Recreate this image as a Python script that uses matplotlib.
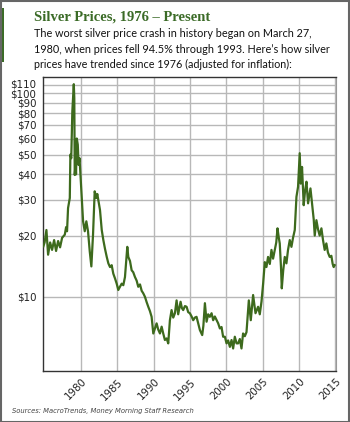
import matplotlib
matplotlib.use('Agg')
import matplotlib.pyplot as plt
from matplotlib.ticker import FixedLocator, NullLocator
from matplotlib.patches import Rectangle
import matplotlib.transforms as mtransforms

# ---------------- data ----------------
years = [1974.81, 1974.98, 1975.23, 1975.46, 1975.74, 1976.01, 1976.29, 1976.56, 1976.84,
         1977.11, 1977.39, 1977.76, 1977.94, 1978.07, 1978.21, 1978.45, 1978.53, 1978.65,
         1978.80, 1979.00, 1979.07, 1979.13, 1979.24, 1979.31, 1979.41, 1979.55, 1979.66,
         1979.79, 1980.04, 1980.28, 1980.51, 1980.73, 1980.96, 1981.20, 1981.42, 1981.65,
         1981.88, 1982.10, 1982.24, 1982.38, 1982.61, 1982.85, 1983.07, 1983.30, 1983.54,
         1983.76, 1983.99, 1984.22, 1984.44, 1984.68, 1984.91, 1985.13, 1985.36, 1985.60,
         1985.82, 1986.05, 1986.37, 1986.51, 1986.74, 1986.97, 1987.19, 1987.43, 1987.66,
         1987.88, 1988.12, 1988.35, 1988.57, 1988.80, 1989.04, 1989.26, 1989.49, 1989.72,
         1989.95, 1990.18, 1990.41, 1990.63, 1990.87, 1991.10, 1991.32, 1991.55, 1991.79,
         1992.01, 1992.24, 1992.47, 1992.70, 1992.93, 1993.16, 1993.38, 1993.71, 1993.89,
         1994.07, 1994.31, 1994.54, 1994.76, 1994.99, 1995.23, 1995.45, 1995.68, 1995.91,
         1996.13, 1996.37, 1996.69, 1996.85, 1997.06, 1997.29, 1997.51, 1997.74, 1997.98,
         1998.20, 1998.43, 1998.67, 1998.89, 1999.12, 1999.35, 1999.57, 1999.81, 2000.04,
         2000.26, 2000.50, 2000.73, 2000.95, 2001.18, 2001.42, 2001.64, 2001.87, 2002.10,
         2002.32, 2002.56, 2002.79, 2003.11, 2003.38, 2003.70, 2004.03, 2004.39, 2004.62,
         2004.86, 2005.08, 2005.31, 2005.54, 2005.76, 2006.00, 2006.23, 2006.45, 2006.69,
         2006.89, 2007.06, 2007.24, 2007.37, 2007.54, 2007.65, 2007.85, 2008.06, 2008.29,
         2008.51, 2008.75, 2008.98, 2009.20, 2009.44, 2009.67, 2009.89, 2010.12, 2010.26,
         2010.44, 2010.67, 2010.85, 2011.05, 2011.27, 2011.60, 2011.87, 2012.05, 2012.19,
         2012.42, 2012.64, 2012.87, 2013.11, 2013.33, 2013.56, 2013.79, 2014.01, 2014.25,
         2014.48, 2014.66, 2014.80, 2014.94]
prices = [17.7, 18.5, 21.3, 16.1, 18.5, 17.0, 19.0, 16.8, 18.8,
          17.5, 19.5, 20.2, 22.0, 21.0, 27.3, 30.6, 50.0, 48.0,
          81.7, 111.0, 95.0, 39.7, 45.0, 40.0, 60.0, 56.0, 44.5,
          48.0, 33.0, 23.5, 21.0, 23.5, 21.0, 16.7, 14.1, 20.2,
          33.0, 30.6, 32.0, 29.9, 26.7, 21.3, 19.0, 17.2, 15.7,
          14.6, 14.0, 14.3, 13.0, 12.3, 11.6, 10.8, 11.2, 11.6,
          11.4, 12.5, 17.6, 15.7, 15.0, 13.5, 13.2, 12.5, 12.0,
          11.2, 11.5, 10.7, 10.4, 10.0, 9.4, 8.93, 8.5, 7.97,
          6.6, 7.0, 7.4, 6.9, 6.6, 7.13, 6.6, 6.13, 6.24,
          5.9, 7.67, 8.6, 7.9, 8.3, 9.6, 8.2, 9.45, 8.8,
          8.6, 9.0, 8.93, 8.4, 8.3, 8.0, 7.67, 7.9, 7.97,
          7.4, 6.86, 6.48, 7.2, 9.3, 7.54, 8.2, 7.97, 8.3,
          7.67, 8.0, 7.67, 7.4, 6.99, 7.1, 6.36, 6.36, 5.9,
          6.1, 5.67, 6.13, 5.57, 6.36, 5.9, 5.9, 6.2, 5.57,
          6.6, 6.4, 6.7, 9.6, 7.67, 10.2, 8.3, 8.93, 8.2,
          9.5, 11.6, 14.8, 14.0, 15.7, 14.5, 17.0, 15.4, 17.0,
          18.5, 21.7, 19.5, 18.3, 14.0, 11.0, 13.5, 15.7, 14.6,
          17.0, 19.0, 17.6, 19.5, 21.3, 31.0, 34.7, 50.8, 36.0,
          43.5, 28.2, 33.0, 36.8, 28.8, 34.1, 27.7, 24.0, 20.0,
          23.8, 21.5, 20.0, 21.7, 19.0, 17.0, 18.3, 16.5, 15.7,
          15.9, 14.5, 14.0, 14.3]

ytick_vals = [10, 20, 30, 40, 50, 60, 70, 80, 90, 100, 110]
ytick_labels = ['$10', '$20', '$30', '$40', '$50', '$60', '$70', '$80', '$90', '$100', '$110']
xtick_vals = [1980, 1985, 1990, 1995, 2000, 2005, 2010, 2015]
xtick_labels = ['1980', '1985', '1990', '1995', '2000', '2005', '2010', '2015']

title = 'Silver Prices, 1976 \u2013 Present'
body_lines = ['The worst silver price crash in history began on March 27,',
              '1980, when prices fell 94.5% through 1993. Here\u2019s how silver',
              'prices have trended since 1976 (adjusted for inflation):']
source = 'Sources: MacroTrends, Money Morning Staff Research'

# ---------------- figure ----------------
W, H = 350, 422
fig = plt.figure(figsize=(W / 100, H / 100), dpi=100)
fig.patch.set_facecolor('white')

L, R, T, B = 43.3, 335.5, 77.3, 370.7
ax = fig.add_axes([L / W, 1 - B / H, (R - L) / W, (B - T) / H])
ax.set_yscale('log')
ax.set_ylim(4.33, 120)
ax.set_xlim(1974.8, 2015.05)

ax.plot(years, prices, color='#3d6a1d', lw=1.6, solid_joinstyle='round', zorder=3)

ax.yaxis.set_major_locator(FixedLocator(ytick_vals))
ax.yaxis.set_minor_locator(NullLocator())
ax.set_yticklabels(ytick_labels)
ax.set_xticks(xtick_vals)
ax.set_xticklabels(xtick_labels)
ax.grid(True, color='#b8b8b8', lw=1.0)
ax.set_axisbelow(True)
ax.tick_params(length=0, labelsize=7.4, colors='#222222')
ax.tick_params(axis='y', pad=5)
ax.tick_params(axis='x', pad=6)
offset = mtransforms.ScaledTranslation(4 / 100, -1 / 100, fig.dpi_scale_trans)
for lab in ax.get_xticklabels():
    lab.set_rotation(45)
    lab.set_ha('right')
    lab.set_va('center')
    lab.set_rotation_mode('anchor')
    lab.set_transform(lab.get_transform() + offset)
# the top label sits slightly above its gridline, as in the reference
ylabs = ax.get_yticklabels()
up = mtransforms.ScaledTranslation(0, 1.5 / 100, fig.dpi_scale_trans)
ylabs[-1].set_transform(ylabs[-1].get_transform() + up)
for side in ['left', 'bottom', 'top']:
    ax.spines[side].set_color('#333333')
    ax.spines[side].set_linewidth(1.0)
ax.spines['right'].set_color('#999999')

# ---------------- texts ----------------
def px(x, y):
    return x / W, 1 - y / H

fig.canvas.draw()
renderer = fig.canvas.get_renderer()

def fit_text(x, y, s, width, **kw):
    t = fig.text(*px(x, y), s, **kw)
    w = t.get_window_extent(renderer).width
    t.set_fontsize(t.get_fontsize() * width / w)
    return t

fit_text(34, 20.5, title, 176, fontsize=12, family=['Liberation Serif'], weight='bold',
         color='#3b6b27', va='baseline', ha='left')
fit_text(34, 37, body_lines[0], 278, fontsize=9, family=['Lato'],
         color='#111111', va='baseline', ha='left')
fit_text(34, 53, body_lines[1], 296, fontsize=9, family=['Lato'],
         color='#111111', va='baseline', ha='left')
fit_text(34, 68.5, body_lines[2], 258, fontsize=9, family=['Lato'],
         color='#111111', va='baseline', ha='left')
fit_text(12, 410.5, source, 185, fontsize=6, style='italic', family=['DejaVu Sans'],
         color='#444444', va='center', ha='left')

# green accent bar and outer frame
fig.add_artist(Rectangle((0, 1 - 62 / H), 4 / W, 54 / H, transform=fig.transFigure,
                         facecolor='#3b6b27', edgecolor='none'))
fig.add_artist(Rectangle((0.5 / W, 0.5 / H), (W - 1.5) / W, (H - 1.5) / H,
                         transform=fig.transFigure, facecolor='none',
                         edgecolor='#666666', lw=1.5))

fig.savefig('out.png', dpi=100)
